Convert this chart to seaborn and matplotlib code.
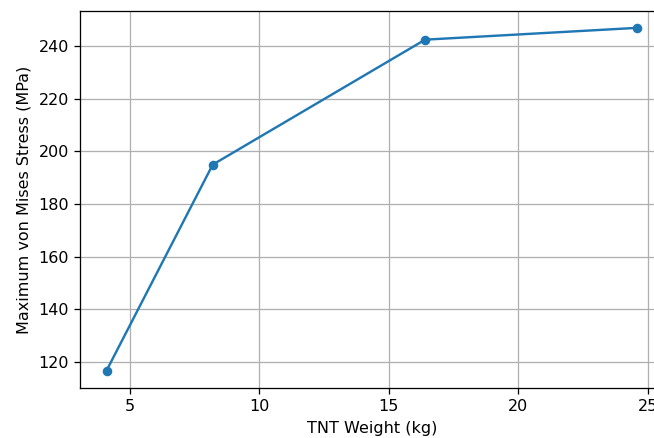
import matplotlib
matplotlib.use("Agg")
import matplotlib.pyplot as plt
import seaborn as sns
import pandas as pd

tnt_weight = [4.1, 8.2, 16.4, 24.6]
max_stress = [116.7, 195.0, 242.5, 247.0]

df = pd.DataFrame({"TNT Weight (kg)": tnt_weight, "Maximum von Mises Stress (MPa)": max_stress})

s = 1.15
plt.rcParams['font.family'] = ['DejaVu Sans']
plt.rcParams.update({
    'font.size': 10 * s,
    'axes.linewidth': 0.8 * s,
    'xtick.major.width': 0.8 * s,
    'ytick.major.width': 0.8 * s,
    'xtick.major.size': 3.5 * s,
    'ytick.major.size': 3.5 * s,
    'xtick.major.pad': 3.5 * s,
    'ytick.major.pad': 3.5 * s,
    'axes.labelpad': 4.0 * s,
})
fig = plt.figure(figsize=(6.54, 4.38), dpi=100)
ax = fig.add_axes([0.1223, 0.1142, 0.893, 0.8607])
sns.lineplot(data=df, x="TNT Weight (kg)", y="Maximum von Mises Stress (MPa)",
             marker="o", markersize=6 * s, markeredgewidth=0, linewidth=1.5 * s,
             color="#1f77b4", ax=ax)
ax.grid(True, color="#b0b0b0", linewidth=0.8 * s)
ax.set_xticks([5, 10, 15, 20, 25])
ax.set_yticks([120, 140, 160, 180, 200, 220, 240])
ax.set_xlim(3.075, 25.625)
ax.set_ylim(110.1, 253.4)
fig.savefig("out.png", dpi=100)
